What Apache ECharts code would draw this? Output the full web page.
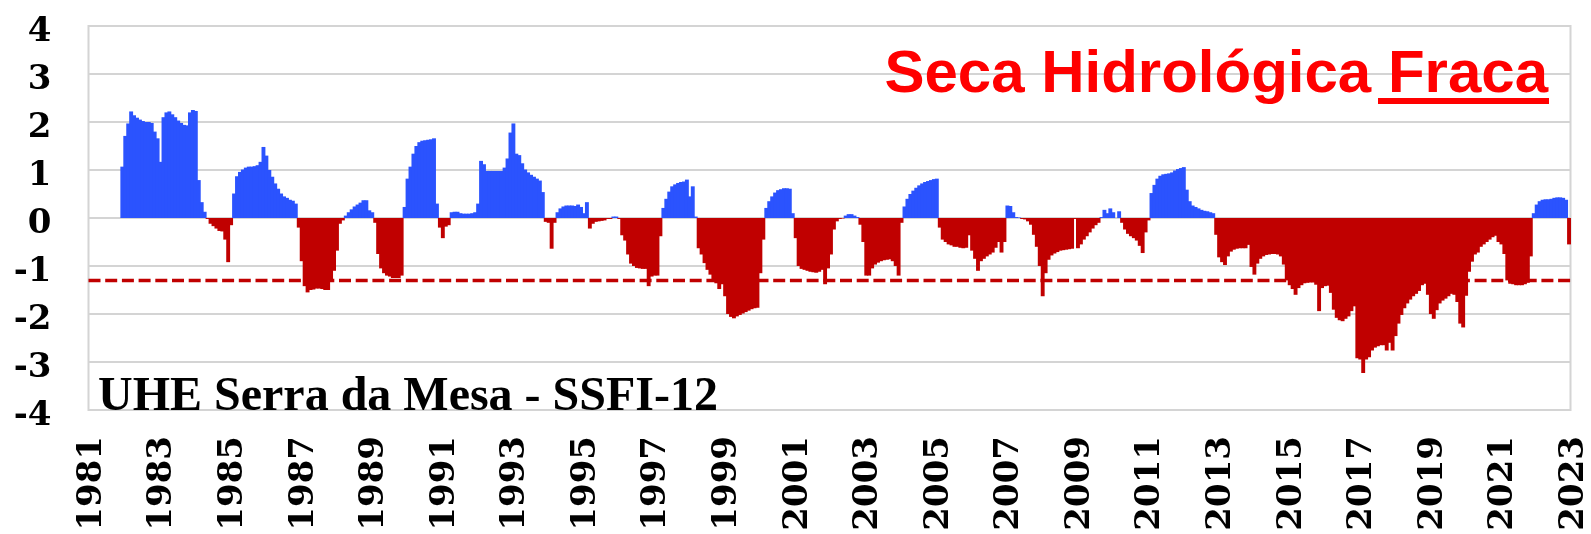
<!DOCTYPE html>
<html>
<head>
<meta charset="utf-8">
<script src="https://cdn.jsdelivr.net/npm/echarts@6/dist/echarts.min.js"></script>
<style>
html,body{margin:0;padding:0;background:#fff;}
#chart{width:1591px;height:534px;}
</style>
</head>
<body>
<div id="chart"></div>
<script>
// Monthly SSFI-12 values, first value = December 1981, last = December 2022
const firstYear = 1981;
const firstMonth = 12;

const ssfi1980s = [
  1.07,
  1.71, 1.97, 2.22, 2.14, 2.09, 2.05, 2.02, 2.0, 2.0, 1.98, 1.8, 1.66,
  1.17, 2.1, 2.2, 2.22, 2.16, 2.1, 2.03, 1.98, 1.94, 1.93, 2.2, 2.25,
  2.23, 0.79, 0.33, 0.13, -0.02, -0.12, -0.17, -0.22, -0.27, -0.28, -0.45, -0.92,
  -0.15, 0.51, 0.87, 0.96, 1.01, 1.05, 1.07, 1.07, 1.08, 1.1, 1.17, 1.48,
  1.3, 1.0, 0.86, 0.72, 0.61, 0.51, 0.45, 0.42, 0.38, 0.36, 0.3, -0.2,
  -0.9, -1.42, -1.55, -1.5, -1.49, -1.47, -1.47, -1.48, -1.5, -1.5, -1.3, -1.1,
  -0.68, -0.12, -0.05, 0.05, 0.12, 0.18, 0.24, 0.28, 0.32, 0.37, 0.37, 0.16,
  0.12, -0.1, -0.75, -1.05, -1.15, -1.2, -1.22, -1.25, -1.25, -1.25, -1.2, 0.23
];
const ssfi1990s = [
  0.82, 1.07, 1.34, 1.5, 1.58, 1.61, 1.62, 1.63, 1.64, 1.66, 0.3, -0.2,
  -0.42, -0.18, -0.15, 0.12, 0.13, 0.13, 0.1, 0.09, 0.09, 0.09, 0.1, 0.12,
  0.3, 1.19, 1.12, 0.98, 0.98, 0.98, 0.98, 0.98, 0.98, 1.05, 1.24, 1.78,
  1.97, 1.34, 1.31, 1.14, 1.01, 0.95, 0.9, 0.86, 0.82, 0.78, 0.54, -0.08,
  -0.1, -0.64, -0.1, 0.12, 0.2, 0.24, 0.26, 0.26, 0.26, 0.25, 0.28, 0.23,
  0.1, 0.33, -0.22, -0.12, -0.08, -0.07, -0.06, -0.05, -0.02, -0.02, 0.03, 0.03,
  -0.02, -0.36, -0.47, -0.76, -0.95, -1.0, -1.04, -1.05, -1.06, -1.06, -1.42, -1.22,
  -1.2, -1.2, -0.38, 0.21, 0.4, 0.55, 0.66, 0.7, 0.73, 0.75, 0.76, 0.8,
  0.45, 0.66, 0.03, -0.63, -0.76, -0.94, -1.08, -1.18, -1.28, -1.36, -1.48, -1.38,
  -1.63, -2.0, -2.06, -2.09, -2.05, -2.02, -1.99, -1.96, -1.93, -1.9, -1.88, -1.87
];
const ssfi2000s = [
  -1.15, -0.45, 0.21, 0.35, 0.45, 0.53, 0.58, 0.6, 0.62, 0.62, 0.61, 0.1,
  -0.42, -1.0, -1.06, -1.08, -1.1, -1.12, -1.13, -1.14, -1.12, -1.08, -1.38, -1.05,
  -0.76, -0.24, -0.07, -0.02, -0.01, 0.05, 0.08, 0.08, 0.05, 0.02, -0.14, -0.5,
  -1.2, -1.2, -1.05, -0.97, -0.93, -0.9, -0.88, -0.87, -0.86, -0.9, -1.0, -1.2,
  -0.1, 0.24, 0.4, 0.5, 0.57, 0.63, 0.68, 0.72, 0.75, 0.77, 0.79, 0.81,
  0.82, -0.2, -0.45, -0.5, -0.55, -0.57, -0.6, -0.6, -0.62, -0.63, -0.62, -0.36,
  -0.68, -0.85, -1.1, -0.9, -0.85, -0.8, -0.76, -0.72, -0.62, -0.5, -0.72, -0.5,
  0.26, 0.25, 0.12, 0.02, 0.01, -0.02, -0.03, -0.07, -0.14, -0.35, -0.6, -1.0,
  -1.63, -1.15, -0.87, -0.78, -0.74, -0.71, -0.68, -0.67, -0.66, -0.65, -0.64, -0.02,
  -0.63, -0.55, -0.45, -0.38, -0.3, -0.22, -0.15, -0.1, 0.02, 0.17, 0.1, 0.2
];
const ssfi2010s = [
  0.12, 0.0, 0.14, -0.1, -0.24, -0.33, -0.38, -0.42, -0.47, -0.58, -0.73, -0.3,
  -0.05, 0.52, 0.69, 0.82, 0.88, 0.91, 0.92, 0.93, 0.95, 0.99, 1.02, 1.04,
  1.06, 0.59, 0.35, 0.26, 0.23, 0.2, 0.17, 0.15, 0.14, 0.12, 0.1, -0.35,
  -0.82, -0.92, -0.98, -0.8, -0.7, -0.66, -0.64, -0.63, -0.63, -0.63, -0.56, -1.02,
  -1.18, -0.95, -0.85, -0.8, -0.77, -0.76, -0.75, -0.75, -0.76, -0.8, -0.97, -1.3,
  -1.4, -1.48, -1.6, -1.46, -1.4, -1.36, -1.35, -1.34, -1.34, -1.39, -1.94, -1.46,
  -1.42, -1.41, -1.56, -1.91, -2.08, -2.13, -2.15, -2.1, -2.05, -1.94, -1.84, -2.92,
  -2.95, -3.23, -2.95, -2.9, -2.76, -2.7, -2.67, -2.65, -2.65, -2.76, -2.6, -2.76,
  -2.46, -2.2, -2.02, -1.88, -1.78, -1.7, -1.63, -1.58, -1.52, -1.4, -1.37, -1.6,
  -2.0, -2.1, -1.92, -1.78, -1.72, -1.68, -1.63, -1.58, -1.6, -1.75, -2.2, -2.28
];
const ssfi2020s = [
  -1.62, -1.12, -0.91, -0.76, -0.72, -0.6, -0.55, -0.5, -0.45, -0.4, -0.37, -0.5,
  -0.55, -0.75, -1.3, -1.37, -1.38, -1.4, -1.4, -1.4, -1.38, -1.35, -0.8, 0.1,
  0.28, 0.35, 0.38, 0.39, 0.39, 0.4, 0.42, 0.43, 0.43, 0.42, 0.38, -0.55
];

const droughtThreshold = -1.3;
const yearTicks = { min: 1981, max: 2023, step: 2 };
const valueTicks = { min: -4, max: 4, step: 1 };

const titleText = 'UHE Serra da Mesa - SSFI-12';
const classPrefix = 'Seca Hidrológica ';
const classWord = 'Fraca';

const BLUE = '#2b53fe';
const RED = '#c00000';

const allValues = [].concat(ssfi1980s, ssfi1990s, ssfi2000s, ssfi2010s, ssfi2020s);
const startIndex = firstMonth - 1; // months since Jan of firstYear
const barData = allValues.map((v, k) => [firstYear + (startIndex + k + 0.5) / 12, v]);

const chart = echarts.init(document.getElementById('chart'), null, { renderer: 'canvas' });

const axisFont = { fontFamily: 'DejaVu Serif', fontWeight: 'bold', fontSize: 34, color: '#000' };

chart.setOption({
  animation: false,
  backgroundColor: '#ffffff',
  grid: {
    left: 88.5, right: 16, top: 26, bottom: 124,
    show: true, borderColor: '#d4d4d4', borderWidth: 2, backgroundColor: 'transparent'
  },
  xAxis: {
    type: 'value',
    min: yearTicks.min, max: yearTicks.max, interval: yearTicks.step,
    axisLine: { show: false }, axisTick: { show: false }, splitLine: { show: false },
    axisLabel: Object.assign({ rotate: 90, margin: 26, verticalAlign: 'top', lineHeight: 7,
      formatter: v => String(v), showMinLabel: true, showMaxLabel: true }, axisFont)
  },
  yAxis: {
    type: 'value',
    min: valueTicks.min, max: valueTicks.max, interval: valueTicks.step,
    axisLine: { show: false }, axisTick: { show: false },
    splitLine: { show: true, lineStyle: { color: '#d4d4d4', width: 2 } },
    axisLabel: Object.assign({ margin: 37, verticalAlign: 'top', lineHeight: 13,
      formatter: v => String(v) }, axisFont)
  },
  series: [
    {
      type: 'line',
      data: [[yearTicks.min, droughtThreshold], [yearTicks.max, droughtThreshold]],
      symbol: 'none',
      lineStyle: { color: RED, width: 3.5, type: [12, 4.7] },
      z: 1, silent: true
    },
    {
      type: 'bar',
      data: barData,
      barWidth: 3.9,
      itemStyle: { color: p => (p.value[1] >= 0 ? BLUE : RED), borderWidth: 0 },
      z: 3, silent: true
    }
  ],
  graphic: [
    {
      type: 'text', x: 1548, y: 75, z: 100,
      style: {
        text: classPrefix + classWord,
        font: 'bold 60px "Liberation Sans"',
        fill: '#ff0000',
        align: 'right', textAlign: 'right',
        verticalAlign: 'middle', textVerticalAlign: 'middle'
      }
    },
    {
      type: 'rect', z: 100,
      shape: { x: 1378, y: 98, width: 171, height: 6 },
      style: { fill: '#ff0000' }
    },
    {
      type: 'text', x: 98, y: 398, z: 100,
      style: {
        text: titleText,
        font: 'bold 48px "Liberation Serif"',
        fill: '#000',
        align: 'left', textAlign: 'left',
        verticalAlign: 'middle', textVerticalAlign: 'middle'
      }
    }
  ]
});
</script>
</body>
</html>
